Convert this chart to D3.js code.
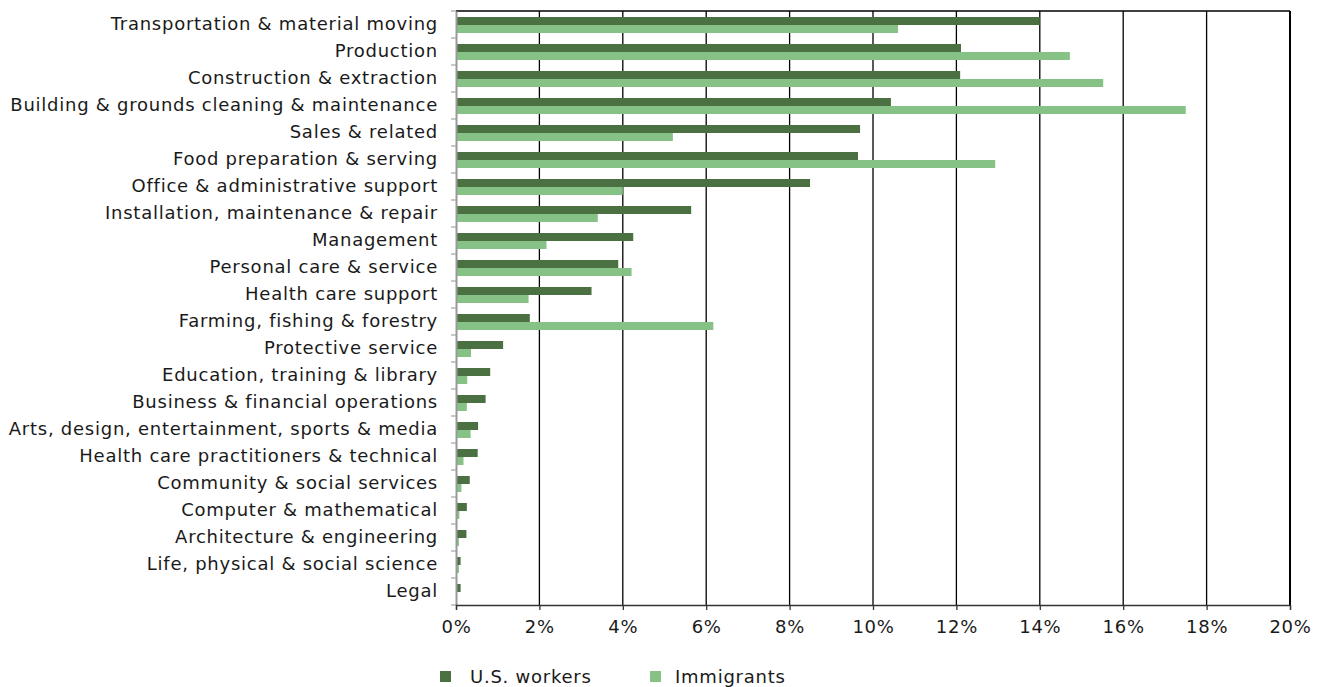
<!DOCTYPE html>
<html><head><meta charset="utf-8">
<script src="https://cdn.jsdelivr.net/npm/d3@7"></script>
<style>body{margin:0;background:#fff;} svg{display:block;font-family:"DejaVu Sans",sans-serif;}</style>
</head><body><svg id="c" width="1330" height="687"></svg>
<script>
const categories = ["Transportation & material moving","Production","Construction & extraction","Building & grounds cleaning & maintenance","Sales & related","Food preparation & serving","Office & administrative support","Installation, maintenance & repair","Management","Personal care & service","Health care support","Farming, fishing & forestry","Protective service","Education, training & library","Business & financial operations","Arts, design, entertainment, sports & media","Health care practitioners & technical","Community & social services","Computer & mathematical","Architecture & engineering","Life, physical & social science","Legal"];
const usWorkers = [14.0,12.11,12.09,10.43,9.69,9.64,8.49,5.64,4.25,3.89,3.25,1.77,1.13,0.82,0.71,0.53,0.52,0.33,0.26,0.25,0.11,0.11];
const immigrants = [10.6,14.72,15.52,17.5,5.2,12.93,4.0,3.4,2.17,4.21,1.74,6.17,0.36,0.27,0.26,0.35,0.18,0.13,0.08,0.07,0.07,0.02];
const seriesNames = ["U.S. workers","Immigrants"];
const colors = ["#4b7143","#86c286"];
const xTicks = [0,2,4,6,8,10,12,14,16,18,20];

const FONT = "'DejaVu Sans',sans-serif";
const FS = 18;
const LS = "0.75px";
const svg = d3.select("#c");
const L=456, R=1290, T=11, B=605;
const x = d3.scaleLinear().domain([0,20]).range([L,R]);
const y = d3.scaleBand().domain(categories).range([T,B]).paddingInner(0).paddingOuter(0);
const barH = 8;

// gridlines
svg.append("g").selectAll("line").data(xTicks.slice(1)).join("line")
  .attr("x1",d=>x(d)).attr("x2",d=>x(d)).attr("y1",T).attr("y2",B)
  .attr("stroke","#000").attr("stroke-width",d=>d===20?2:1.3);
svg.append("line").attr("x1",L).attr("x2",R).attr("y1",T).attr("y2",T).attr("stroke","#000").attr("stroke-width",1.3);

// bars
const rows = svg.append("g").selectAll("g").data(categories).join("g")
  .attr("transform",d=>`translate(0,${y(d)})`);
rows.append("rect").attr("x",x(0)).attr("y",6).attr("height",barH)
  .attr("width",(d,i)=>x(usWorkers[i])-x(0)).attr("fill",colors[0]);
rows.append("rect").attr("x",x(0)).attr("y",6+barH).attr("height",barH)
  .attr("width",(d,i)=>x(immigrants[i])-x(0)).attr("fill",colors[1]);

// left axis
const yAxis = svg.append("g").attr("transform",`translate(${L},0)`)
  .call(d3.axisLeft(y).tickSize(0).tickPadding(18));
yAxis.select(".domain").attr("stroke","#999").attr("stroke-width",2);
yAxis.selectAll("text").attr("font-size",FS).attr("fill","#1a1a1a").attr("font-family",FONT).style("letter-spacing",LS);
// left small ticks at band boundaries
svg.append("g").selectAll("line").data(d3.range(categories.length+1)).join("line")
  .attr("x1",L-5).attr("x2",L).attr("y1",i=>T+i*y.step()).attr("y2",i=>T+i*y.step())
  .attr("stroke","#aaa").attr("stroke-width",1.3);

// bottom axis
const xAxis = svg.append("g").attr("transform",`translate(0,${B})`)
  .call(d3.axisBottom(x).tickValues(xTicks).tickFormat(d=>d+"%").tickSize(5).tickPadding(10));
xAxis.select(".domain").attr("stroke","#333").attr("stroke-width",1.3);
xAxis.selectAll(".tick line").attr("stroke","#333").attr("stroke-width",1.3);
xAxis.selectAll("text").attr("font-size",FS).attr("fill","#1a1a1a").attr("font-family",FONT).style("letter-spacing",LS);

// legend
const legX = [440,650], legTx = [30,25];
const leg = svg.append("g").selectAll("g").data(seriesNames).join("g")
  .attr("transform",(d,i)=>`translate(${legX[i]},677)`);
leg.append("rect").attr("x",0).attr("y",-6).attr("width",11).attr("height",11).attr("fill",(d,i)=>colors[i]);
leg.append("text").attr("x",(d,i)=>legTx[i]).attr("y",0).attr("dy","0.35em").attr("font-size",FS).attr("font-family",FONT).style("letter-spacing",LS).attr("fill","#1a1a1a").text(d=>d);
</script></body></html>
